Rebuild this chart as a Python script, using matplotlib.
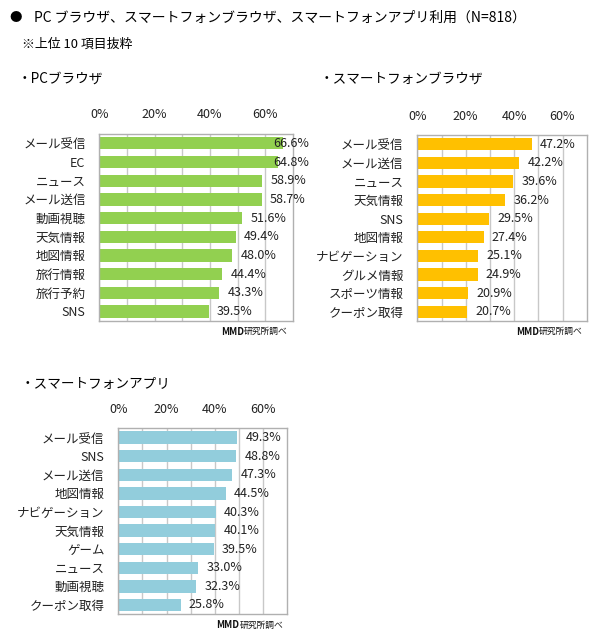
import matplotlib
matplotlib.use("Agg")
import matplotlib.pyplot as plt

plt.rcParams['font.family'] = ['Noto Sans CJK JP', 'DejaVu Sans']

# データ
pc_labels = ['メール受信', 'EC', 'ニュース', 'メール送信', '動画視聴',
             '天気情報', '地図情報', '旅行情報', '旅行予約', 'SNS']
pc_values = [66.6, 64.8, 58.9, 58.7, 51.6, 49.4, 48.0, 44.4, 43.3, 39.5]

sb_labels = ['メール受信', 'メール送信', 'ニュース', '天気情報', 'SNS',
             '地図情報', 'ナビゲーション', 'グルメ情報', 'スポーツ情報', 'クーポン取得']
sb_values = [47.2, 42.2, 39.6, 36.2, 29.5, 27.4, 25.1, 24.9, 20.9, 20.7]

app_labels = ['メール受信', 'SNS', 'メール送信', '地図情報', 'ナビゲーション',
              '天気情報', 'ゲーム', 'ニュース', '動画視聴', 'クーポン取得']
app_values = [49.3, 48.8, 47.3, 44.5, 40.3, 40.1, 39.5, 33.0, 32.3, 25.8]

tick_vals = [0, 20, 40, 60]
tick_text = ['0%', '20%', '40%', '60%']

W, H = 591, 634
fig = plt.figure(figsize=(W / 100, H / 100), dpi=100)


def px_axes(left, top, right, bottom):
    return fig.add_axes([left / W, 1 - bottom / H, (right - left) / W, (bottom - top) / H])


def bar_panel(ax, labels, values, color, label_max):
    y = list(range(len(labels)))
    ax.barh(y, values, height=0.66, color=color, zorder=2)
    ax.set_xlim(0, 70)
    ax.set_ylim(len(labels) - 0.5, -0.5)
    ax.set_yticks(y)
    ax.set_yticklabels(labels, fontsize=9, color='#222222')
    ax.set_xticks(tick_vals)
    ax.set_xticklabels(tick_text, fontsize=9, color='#222222')
    ax.set_xticks([10, 30, 50], minor=True)
    ax.xaxis.tick_top()
    ax.tick_params(axis='x', which='both', length=0, pad=9)
    ax.tick_params(axis='y', length=0, pad=10)
    ax.grid(axis='x', which='both', color='#c8c8c8', linewidth=1, zorder=0)
    for s in ax.spines.values():
        s.set_color('#b0b0b0')
        s.set_linewidth(1)
    for yi, v in zip(y, values):
        ax.annotate(f'{v:.1f}%', xy=(min(v, label_max), yi), xytext=(6, 0),
                    textcoords='offset points', ha='left', va='center',
                    fontsize=9, color='#222222', zorder=3)
    src = ax.text(0.975, -0.058, '研究所調べ', transform=ax.transAxes,
                  ha='right', va='center', fontsize=6.3, color='#111111')
    ax.annotate('MMD', xy=(0, 0.5), xycoords=src, ha='right', va='center',
                fontsize=6.8, fontweight='bold', color='#111111')


ax1 = px_axes(99.5, 134, 292.7, 320.7)
bar_panel(ax1, pc_labels, pc_values, '#92D050', 60)

ax2 = px_axes(417.3, 135, 586.7, 321)
bar_panel(ax2, sb_labels, sb_values, '#FFC000', 70)

ax3 = px_axes(118.3, 428.3, 287.3, 614.3)
bar_panel(ax3, app_labels, app_values, '#92CDDC', 70)

fig.text(9 / W, 1 - 18 / H, '●', fontsize=9, va='center', ha='left')
fig.text(34 / W, 1 - 18 / H, 'PC ブラウザ、スマートフォンブラウザ、スマートフォンアプリ利用（N=818）',
         fontsize=10, va='center', ha='left')
fig.text(22 / W, 1 - 44 / H, '※上位 10 項目抜粋', fontsize=9.3, va='center', ha='left')
fig.text(18 / W, 1 - 79 / H, '・PCブラウザ', fontsize=9.8, va='center', ha='left')
fig.text(320 / W, 1 - 79 / H, '・スマートフォンブラウザ', fontsize=9.8, va='center', ha='left')
fig.text(21 / W, 1 - 384 / H, '・スマートフォンアプリ', fontsize=9.8, va='center', ha='left')

fig.savefig('out.png', dpi=100)
